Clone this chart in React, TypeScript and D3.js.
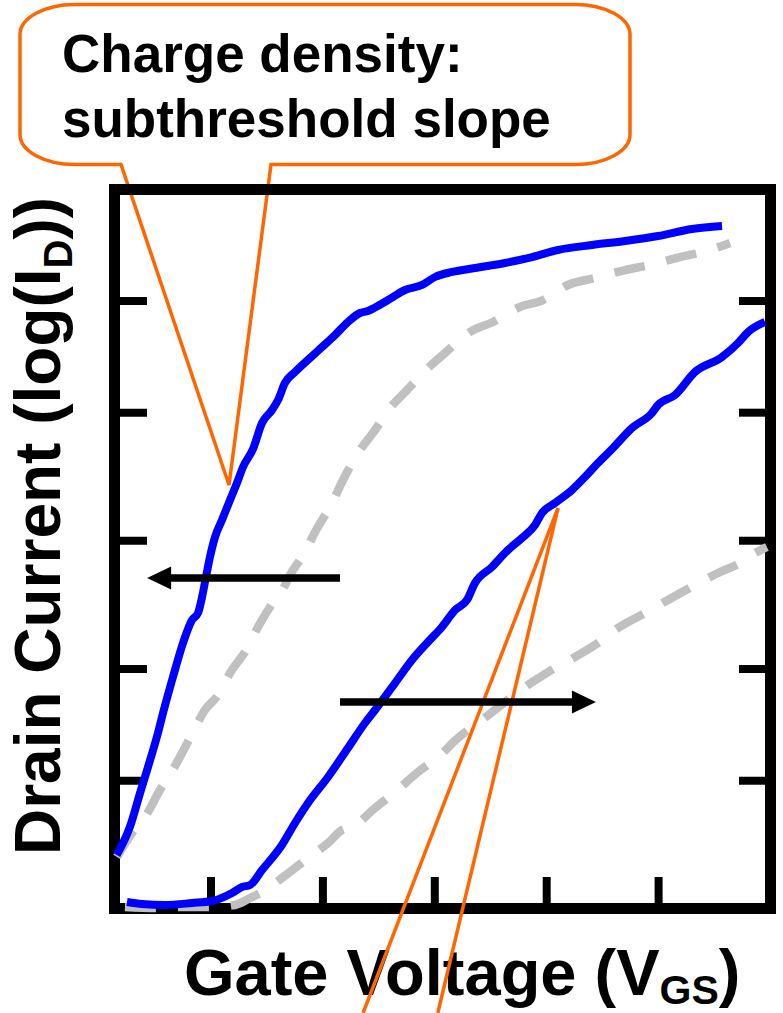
import React from "react";
import * as d3 from "d3";

// x in volts-like units (ticks 1..5), y in arbitrary log-current units
const xTicks = [1, 2, 3, 4, 5];
const yTicks = [17.77, 33.31, 51.15, 68.96, 84.49];

// left solid blue curve
const blueLeft: [number, number][] = [
  [0.157, 7.44], [0.276, 11.38], [0.366, 16.06], [0.437, 19.68], [0.526, 24.41], [0.58, 27.7],
  [0.66, 32.2], [0.75, 36.93], [0.83, 40.13], [0.884, 41.1], [0.92, 43.32], [0.955, 46.11],
  [0.991, 48.89], [1.036, 51.67], [1.098, 54.03], [1.17, 56.82], [1.232, 59.18], [1.286, 61.4],
  [1.375, 63.9], [1.456, 67.52], [1.545, 69.33], [1.599, 70.72], [1.661, 73.09], [1.751, 74.62],
  [1.885, 76.56], [1.992, 78.09], [2.108, 79.76], [2.224, 81.57], [2.332, 82.82], [2.403, 83.1],
  [2.466, 83.59], [2.582, 84.63], [2.734, 86.02], [2.886, 86.72], [3.002, 87.83], [3.154, 88.53],
  [3.359, 89.08], [3.627, 89.78], [3.869, 90.61], [4.101, 91.59], [4.405, 92.28], [4.7, 92.84],
  [4.995, 93.53], [5.298, 94.51], [5.567, 94.92],
];

// left dashed gray curve
const grayLeft: [number, number][] = [
  [0.16, 7.16], [0.294, 10.5], [0.41, 12.73], [0.544, 16.48], [0.678, 19.82], [0.812, 23.71],
  [0.946, 27.61], [1.063, 29.69], [1.17, 32.75], [1.331, 36.37], [1.42, 39.15], [1.527, 41.93],
  [1.545, 42.35], [1.616, 43.6], [1.706, 46.38], [1.84, 49.58], [1.93, 52.36], [2.082, 56.4],
  [2.171, 59.32], [2.314, 63.35], [2.466, 66.55], [2.6, 69.61], [2.752, 72.11], [2.939, 75.17],
  [3.091, 77.26], [3.314, 80.18], [3.52, 81.57], [3.761, 83.66], [3.967, 84.63], [4.19, 86.72],
  [4.432, 87.69], [4.7, 88.8], [4.923, 89.5], [5.191, 90.61], [5.397, 91.31], [5.638, 92.56],
];

// right solid blue curve
const blueRight: [number, number][] = [
  [0.249, 0.9], [0.383, 0.63], [0.589, 0.49], [0.83, 0.76], [1.009, 1.04], [1.188, 2.16],
  [1.277, 2.99], [1.349, 3.27], [1.456, 5.35], [1.634, 8.83], [1.751, 11.89], [1.867, 14.67],
  [2.046, 18.29], [2.224, 22.32], [2.376, 25.8], [2.466, 27.61], [2.645, 31.36], [2.796, 34.56],
  [2.939, 37.07], [3.064, 39.15], [3.181, 41.52], [3.288, 42.91], [3.359, 45.27], [3.511, 47.5],
  [3.654, 49.86], [3.779, 51.53], [3.896, 53.34], [3.958, 55.01], [4.074, 56.4], [4.226, 58.21],
  [4.342, 60.01], [4.458, 61.96], [4.584, 63.91], [4.762, 66.83], [4.941, 68.92], [4.995, 70.03],
  [5.147, 71.42], [5.325, 74.62], [5.567, 76.7], [5.71, 78.65], [5.8, 80.18], [5.951, 81.57],
];

// right dashed gray curve
const grayRight: [number, number][] = [
  [0.231, 0.21], [0.517, 0.07], [0.723, 0.21], [1.009, 0.21], [1.215, 0.49], [1.349, 1.46],
  [1.456, 2.29], [1.634, 4.24], [1.867, 7.02], [2.046, 9.11], [2.171, 10.92], [2.26, 11.33],
  [2.466, 13.98], [2.645, 16.2], [2.85, 18.98], [3.029, 21.07], [3.207, 23.71], [3.422, 26.22],
  [3.627, 28.72], [3.806, 30.81], [4.012, 32.89], [4.253, 34.98], [4.458, 36.93], [4.637, 39.01],
  [4.878, 41.1], [5.084, 42.91], [5.325, 44.99], [5.531, 46.66], [5.745, 48.19], [5.834, 49.17],
  [5.968, 50.28],
];

// arrows: [xFrom, xTo, y]
const arrowLeft = [2.153, 0.429, 45.97];
const arrowRight = [2.153, 4.44, 28.72];
// callout tips
const tipSlope = [1.161, 58.9];
const tipVth = [4.101, 55.7];

const W = 783;
const H = 1013;
const FONT = "'Liberation Sans', Arial, Helvetica, sans-serif";
const ORANGE = "#ff6600";
const BLUE = "#0000ff";
const GRAY = "#c0c0c0";

export default function App() {
  const x = d3.scaleLinear().domain([0.1376, 6]).range([114.5, 770.5]);
  const y = d3.scaleLinear().domain([0, 100]).range([908.5, 189.5]);
  const line = d3
    .line<[number, number]>()
    .x((d) => x(d[0]))
    .y((d) => y(d[1]))
    .curve(d3.curveMonotoneX);

  const [x0, x1] = x.range();
  const [yb, yt] = y.range();

  // bubble
  const L = 20, R = 630, T = 4.5, B = 164.5, rx = 55, ry = 30;
  const t1x = x(tipSlope[0]);
  const t1y = y(tipSlope[1]);
  const bubble = `M ${L + rx} ${T} H ${R - rx} A ${rx} ${ry} 0 0 1 ${R} ${T + ry} V ${B - ry} A ${rx} ${ry} 0 0 1 ${R - rx} ${B} H 271 L ${t1x} ${t1y} L 121 ${B} H ${L + rx} A ${rx} ${ry} 0 0 1 ${L} ${B - ry} V ${T + ry} A ${rx} ${ry} 0 0 1 ${L + rx} ${T} Z`;

  const t2x = x(tipVth[0]);
  const t2y = y(tipVth[1]);

  const arrow = (a: number[], key: string) => {
    const xs = x(a[0]);
    const xe = x(a[1]);
    const yy = y(a[2]);
    const dir = xe < xs ? -1 : 1;
    const hl = 24;
    const hw = 11.5;
    return (
      <g key={key}>
        <line x1={xs} y1={yy} x2={xe - dir * (hl - 2)} y2={yy} stroke="#000" strokeWidth={7.5} />
        <path d={`M ${xe} ${yy} L ${xe - dir * hl} ${yy - hw} L ${xe - dir * hl} ${yy + hw} Z`} fill="#000" />
      </g>
    );
  };

  return (
    <svg width={W} height={H} style={{ position: "absolute", left: 0, top: 0, background: "#fff" }}>
      <rect x={0} y={0} width={W} height={H} fill="#fff" />
      {/* callout bubble */}
      <path d={bubble} fill="#fff" stroke={ORANGE} strokeWidth={3.5} strokeLinejoin="miter" />
      <text x={62} y={72} fontFamily={FONT} fontWeight="bold" fontSize={53} fill="#000">
        Charge density:
      </text>
      <text x={62} y={137} fontFamily={FONT} fontWeight="bold" fontSize={53} fill="#000">
        subthreshold slope
      </text>

      {/* frame */}
      <rect x={x0} y={yt} width={x1 - x0} height={yb - yt} fill="none" stroke="#000" strokeWidth={11} />
      {xTicks.map((t) => (
        <line key={"xt" + t} x1={x(t)} x2={x(t)} y1={yb} y2={877} stroke="#000" strokeWidth={8} />
      ))}
      {yTicks.map((t) => (
        <g key={"yt" + t}>
          <line x1={x0} x2={147} y1={y(t)} y2={y(t)} stroke="#000" strokeWidth={8} />
          <line x1={739} x2={x1} y1={y(t)} y2={y(t)} stroke="#000" strokeWidth={8} />
        </g>
      ))}

      {/* curves */}
      <path d={line(grayLeft) || ""} fill="none" stroke={GRAY} strokeWidth={8.5} strokeDasharray="31 22" />
      <path d={line(grayRight) || ""} fill="none" stroke={GRAY} strokeWidth={8.5} strokeDasharray="31 22" />
      <path d={line(blueLeft) || ""} fill="none" stroke={BLUE} strokeWidth={8} strokeLinejoin="round" />
      <path d={line(blueRight) || ""} fill="none" stroke={BLUE} strokeWidth={8} strokeLinejoin="round" />

      {/* axis titles */}
      <text
        transform={`translate(60, 526) rotate(-90)`}
        textAnchor="middle"
        fontFamily={FONT}
        fontWeight="bold"
        fontSize={64}
        fill="#000"
      >
        Drain Current (log(I<tspan fontSize={40} dy={12}>D</tspan>
        <tspan dy={-12}>))</tspan>
      </text>
      <text x={184} y={995} fontFamily={FONT} fontWeight="bold" fontSize={65} fill="#000">
        Gate Voltage (V<tspan fontSize={41} dy={9}>GS</tspan>
        <tspan dy={-9}>)</tspan>
      </text>

      {/* second callout tail */}
      <line x1={t2x} y1={t2y} x2={t2x - (t2y - H) * -0.386} y2={H} stroke={ORANGE} strokeWidth={3.5} />
      <line x1={t2x} y1={t2y} x2={t2x - (t2y - H) * -0.238} y2={H} stroke={ORANGE} strokeWidth={3.5} />

      {/* arrows */}
      {arrow(arrowLeft, "al")}
      {arrow(arrowRight, "ar")}
    </svg>
  );
}
